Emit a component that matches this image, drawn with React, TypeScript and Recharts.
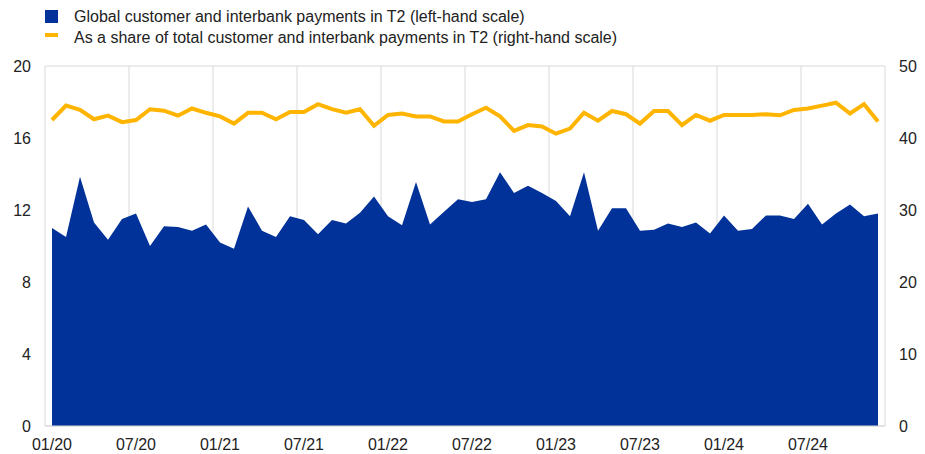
import { ComposedChart, Area, Line, XAxis, YAxis, CartesianGrid } from "recharts";

const YEARS = ["20", "21", "22", "23", "24"];
const MONTHS = ["01", "02", "03", "04", "05", "06", "07", "08", "09", "10", "11", "12"];

// global customer and interbank payments (left-hand scale)
const PAYMENTS = [
  11.0, 10.5, 13.85, 11.3, 10.35, 11.5, 11.8, 10.0, 11.1, 11.05, 10.85, 11.2,
  10.2, 9.85, 12.2, 10.85, 10.5, 11.65, 11.45, 10.65, 11.45, 11.25, 11.85, 12.75,
  11.65, 11.15, 13.55, 11.2, 11.9, 12.6, 12.45, 12.6, 14.1, 12.95, 13.35, 12.95,
  12.5, 11.65, 14.1, 10.85, 12.1, 12.1, 10.85, 10.9, 11.25, 11.05, 11.3, 10.7,
  11.7, 10.85, 10.95, 11.7, 11.7, 11.5, 12.35, 11.2, 11.8, 12.3, 11.65, 11.8,
];

// share of total customer and interbank payments, % (right-hand scale)
const SHARE = [
  42.5, 44.5, 43.9, 42.6, 43.1, 42.2, 42.5, 44.0, 43.8, 43.1, 44.1, 43.5,
  43.0, 42.0, 43.5, 43.5, 42.6, 43.6, 43.6, 44.7, 44.0, 43.5, 44.0, 41.7,
  43.2, 43.4, 43.0, 43.0, 42.3, 42.3, 43.3, 44.2, 43.0, 41.0, 41.8, 41.6,
  40.6, 41.3, 43.5, 42.4, 43.75, 43.3, 42.0, 43.75, 43.75, 41.8, 43.2, 42.4,
  43.2, 43.2, 43.2, 43.3, 43.15, 43.9, 44.1, 44.5, 44.9, 43.4, 44.7, 42.3,
];

const LEFT_TICKS = [0, 4, 8, 12, 16, 20];
const RIGHT_TICKS = [0, 10, 20, 30, 40, 50];

const LABELS = YEARS.flatMap(y => MONTHS.map(m => `${m}/${y}`));

const data = LABELS.map((label, i) => ({
  label,
  payments: PAYMENTS[i],
  share: SHARE[i],
}));

const FONT = '"Liberation Sans", Arial, sans-serif';
const BLUE = "#003299";
const YELLOW = "#FFB400";
const TICK = { fontSize: 16, fill: "#222", fontFamily: FONT };

export default function App() {
  return (
    <div style={{ position: "absolute", left: 0, top: 0, width: 925, height: 454, background: "#fff" }}>
      {/* legend */}
      <div style={{ position: "absolute", left: 45, top: 6, fontFamily: FONT, fontSize: 16, color: "#222", lineHeight: "21px" }}>
        <div style={{ display: "flex", alignItems: "center" }}>
          <span style={{ display: "inline-block", width: 13, height: 13, background: BLUE, marginRight: 16, marginTop: -1 }} />
          Global customer and interbank payments in T2 (left-hand scale)
        </div>
        <div style={{ display: "flex", alignItems: "center" }}>
          <span style={{ display: "inline-block", width: 13, height: 4, background: YELLOW, marginRight: 16, marginTop: -6 }} />
          As a share of total customer and interbank payments in T2 (right-hand scale)
        </div>
      </div>

      <ComposedChart
        width={925}
        height={454}
        data={data}
        margin={{ top: 66, right: 0, left: 0, bottom: 0 }}
      >
        <CartesianGrid
          stroke="#d9d9d9"
          verticalCoordinatesGenerator={({ offset }: any) =>
            Array.from({ length: 11 }, (_, k) => offset.left + (offset.width * k) / 10)
          }
        />
        <XAxis
          dataKey="label"
          interval={5}
          padding={{ left: 7, right: 7 }}
          tick={TICK}
          tickLine={false}
          axisLine={{ stroke: "#d9d9d9" }}
          tickMargin={7}
          height={28}
        />
        <YAxis
          yAxisId="left"
          domain={[0, 20]}
          ticks={LEFT_TICKS}
          tick={TICK}
          tickLine={false}
          axisLine={false}
          tickMargin={8}
          width={45}
        />
        <YAxis
          yAxisId="right"
          orientation="right"
          domain={[0, 50]}
          ticks={RIGHT_TICKS}
          tick={{ ...TICK, textAnchor: "start" }}
          tickLine={false}
          axisLine={false}
          tickMargin={8}
          width={40}
        />
        <Area
          yAxisId="left"
          type="linear"
          dataKey="payments"
          fill={BLUE}
          fillOpacity={1}
          stroke="none"
          isAnimationActive={false}
        />
        <Line
          yAxisId="right"
          type="linear"
          dataKey="share"
          stroke={YELLOW}
          strokeWidth={4}
          dot={false}
          isAnimationActive={false}
        />
      </ComposedChart>
    </div>
  );
}
